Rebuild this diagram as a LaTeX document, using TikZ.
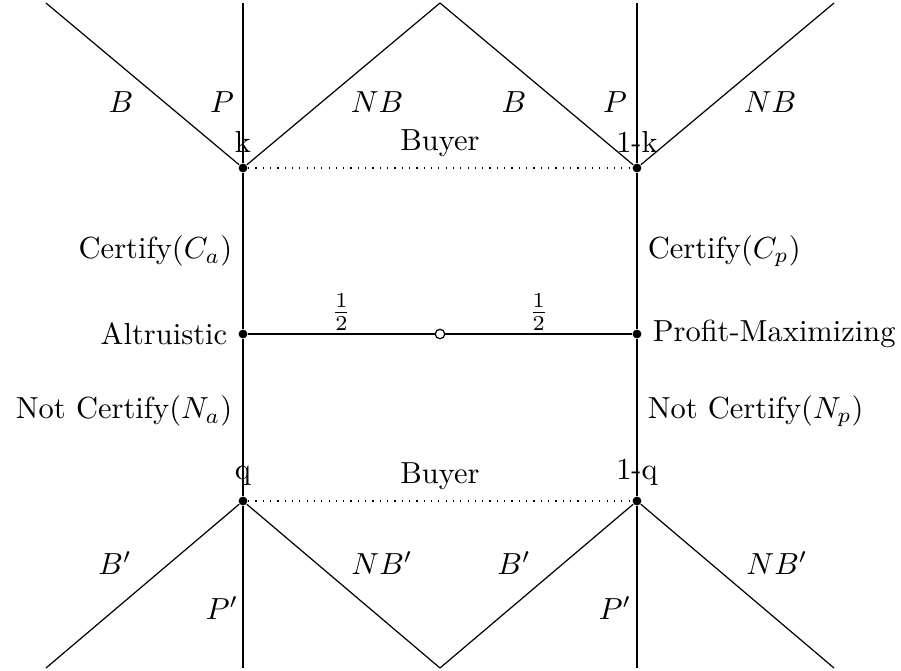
\documentclass[tikz,border=0pt]{standalone}
\usetikzlibrary{positioning}
\begin{document}
\begin{tikzpicture}[
  x=0.328pt, y=-0.328pt,
  dec/.style={circle,fill,inner sep=0pt,minimum size=2.9pt},
  chance/.style={circle,draw,fill=white,inner sep=0pt,minimum size=3.1pt},
  info/.style={dotted},
]
\useasboundingbox (0,0) rectangle (901,671);
% nature and seller types
\node[chance] (n) at (440,334) {};
\node[dec,label=left:Altruistic] (a) at (243,334) {};
\node[dec,label=right:Profit-Maximizing] (p) at (637,334) {};
% buyer after certification
\node[dec,label=above:k] (ca) at (243,168) {};
\node[dec,label=above:1-k] (cp) at (637,168) {};
% buyer after no certification
\node[dec,label=above:q] (na) at (243,501) {};
\node[dec,label=above:1-q] (np) at (637,501) {};
% end points
\coordinate (ca1) at (46,3);  \coordinate (ca2) at (243,3); \coordinate (ca3) at (440,3);
\coordinate (cp1) at (440,3); \coordinate (cp2) at (637,3); \coordinate (cp3) at (834,3);
\coordinate (na1) at (46,668);  \coordinate (na2) at (243,668); \coordinate (na3) at (440,668);
\coordinate (np1) at (440,668); \coordinate (np2) at (637,668); \coordinate (np3) at (834,668);

\draw (a) -- node[above,inner sep=1pt]{$\frac{1}{2}$} (n);
\draw (n) -- node[above,inner sep=1pt]{$\frac{1}{2}$} (p);
\draw (a) -- node[left]{Certify($C_a$)} (ca);
\draw (p) -- node[right]{Certify($C_p$)} (cp);
\draw (a) -- node[left,pos=0.46]{Not Certify($N_a$)} (na);
\draw (p) -- node[right,pos=0.46]{Not Certify($N_p$)} (np);
\draw[info] (ca) -- node[above]{Buyer} (cp);
\draw[info] (na) -- node[above]{Buyer} (np);
\draw (ca) -- (ca1); \draw (ca) -- (ca2); \draw (ca) -- (ca3);
\draw (cp) -- (cp1); \draw (cp) -- (cp2); \draw (cp) -- (cp3);
\draw (na) -- (na1); \draw (na) -- (na2); \draw (na) -- (na3);
\draw (np) -- (np1); \draw (np) -- (np2); \draw (np) -- (np3);
% buyer actions
\node (b1) at (121,102) {$B$};   \node (b2) at (222,102) {$P$};  \node (b3) at (377,102) {$NB$};
\node (b4) at (514,102) {$B$};   \node (b5) at (615,102) {$P$};  \node (b6) at (770,102) {$NB$};
\node (d1) at (115,563) {$B'$};  \node (d2) at (222,608) {$P'$}; \node (d3) at (382,563) {$NB'$};
\node (d4) at (514,563) {$B'$};  \node (d5) at (615,608) {$P'$}; \node (d6) at (777,563) {$NB'$};
\end{tikzpicture}
\end{document}
